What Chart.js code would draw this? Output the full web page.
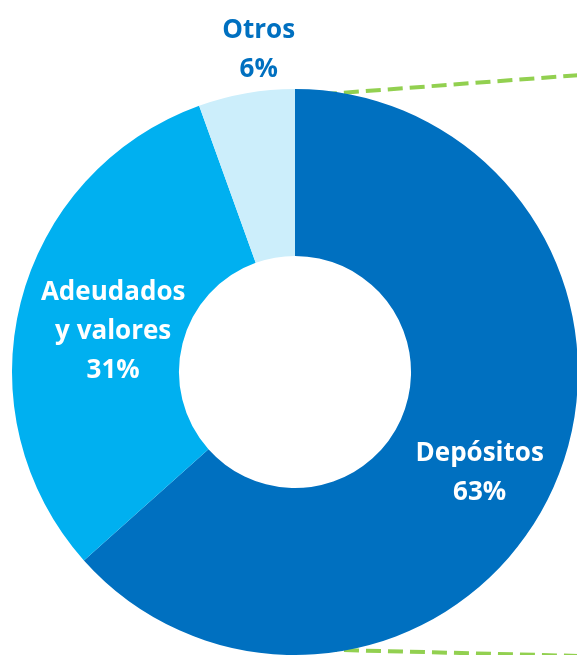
<!doctype html>
<html>
<head>
<meta charset="utf-8">
<title>Doughnut</title>
<script src="https://cdn.jsdelivr.net/npm/chart.js@4/dist/chart.umd.min.js"></script>
<style>
  html, body { margin: 0; padding: 0; background: #fff; overflow: hidden; }
  #wrap { width: 578px; height: 655px; }
</style>
</head>
<body>
<div id="wrap"><canvas id="canvas" width="578" height="655"></canvas></div>
<script>
var categories = ["Depósitos", "Adeudados y valores", "Otros"];
var labelLines = [["Depósitos"], ["Adeudados", "y valores"], ["Otros"]];
var shares = [63.4, 31.1, 5.5];
var sliceColors = ["#0070C0", "#00B0F0", "#CCEEFB"];
var textColors = ["#FFFFFF", "#FFFFFF", "#0070C0"];
// label placement: fraction of outer radius and angle nudge (deg)
var labelPlace = [{ r: 0.74, da: 4 }, { r: 0.66, da: -1 }, { r: 1.15, da: 3.5 }];

var sliceLabels = {
  id: 'sliceLabels',
  afterDatasetsDraw: function(chart) {
    var ctx = chart.ctx;
    var arcs = chart.getDatasetMeta(0).data;
    ctx.save();
    ctx.font = 'bold 26px "Open Sans", sans-serif';
    ctx.textAlign = 'center';
    ctx.textBaseline = 'middle';
    arcs.forEach(function(arc, i) {
      var mid = (arc.startAngle + arc.endAngle) / 2 + labelPlace[i].da * Math.PI / 180;
      var r = arc.outerRadius * labelPlace[i].r;
      var x = arc.x + r * Math.cos(mid);
      var y = arc.y + r * Math.sin(mid) + 2;
      var lines = labelLines[i].concat([Math.round(shares[i]) + '%']);
      var lh = 39;
      var y0 = y - (lines.length - 1) * lh / 2;
      ctx.fillStyle = textColors[i];
      lines.forEach(function(t, k) { ctx.fillText(t, x, y0 + k * lh); });
    });
    ctx.restore();
  }
};

// dashed connector lines, drawn underneath the ring
var connectors = {
  id: 'connectors',
  beforeDatasetsDraw: function(chart) {
    var ctx = chart.ctx;
    ctx.save();
    ctx.strokeStyle = '#92D050';
    ctx.lineWidth = 4;
    ctx.setLineDash([15, 7]);
    ctx.beginPath();
    ctx.moveTo(300, 96); ctx.lineTo(580, 75);
    ctx.moveTo(300, 649); ctx.lineTo(580, 656);
    ctx.stroke();
    ctx.restore();
  }
};

window.onload = function() {
  var ctx = document.getElementById('canvas').getContext('2d');
  window.myChart = new Chart(ctx, {
    type: 'doughnut',
    data: {
      labels: categories,
      datasets: [{
        data: shares,
        backgroundColor: sliceColors,
        borderWidth: 0,
        hoverOffset: 0
      }]
    },
    options: {
      responsive: false,
      animation: false,
      cutout: '41%',
      layout: { padding: { top: 89, left: 12, right: 0, bottom: 0 } },
      plugins: {
        legend: { display: false },
        tooltip: { enabled: false }
      }
    },
    plugins: [connectors, sliceLabels]
  });
};
</script>
</body>
</html>
